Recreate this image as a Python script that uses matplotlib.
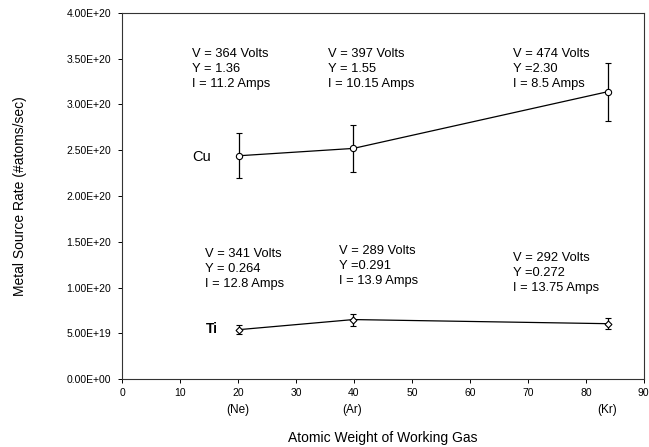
import numpy as np
import matplotlib
matplotlib.use("Agg")
import matplotlib.pyplot as plt
from matplotlib import transforms

plt.rcParams["font.family"] = ["Liberation Sans", "DejaVu Sans"]

# atomic weights of the working gases
gas_names = ["(Ne)", "(Ar)", "(Kr)"]
gas_weight = [20.2, 39.9, 83.8]

cu_rate = [2.44e20, 2.52e20, 3.14e20]
cu_err = [0.245e20, 0.255e20, 0.315e20]
ti_rate = [0.54e20, 0.65e20, 0.605e20]
ti_err = [0.05e20, 0.065e20, 0.06e20]

cu_notes = ["V = 364 Volts\nY = 1.36\nI = 11.2 Amps",
            "V = 397 Volts\nY = 1.55\nI = 10.15 Amps",
            "V = 474 Volts\nY =2.30\nI = 8.5 Amps"]
ti_notes = ["V = 341 Volts\nY = 0.264\nI = 12.8 Amps",
            "V = 289 Volts\nY =0.291\nI = 13.9 Amps",
            "V = 292 Volts\nY =0.272\nI = 13.75 Amps"]

yticks = np.arange(0, 4.01e20, 0.5e20)
xticks = np.arange(0, 91, 10)

fig = plt.figure(figsize=(6.49, 4.47), dpi=100)
ax = fig.add_axes([0.188, 0.152, 0.804, 0.819])

ax.errorbar(gas_weight, cu_rate, yerr=cu_err, color="black", lw=0.9,
            marker="o", ms=4.5, mfc="white", mec="black", mew=0.8,
            capsize=2.5, elinewidth=0.9, capthick=0.9)
ax.errorbar(gas_weight, ti_rate, yerr=ti_err, color="black", lw=0.9,
            marker="D", ms=3.5, mfc="white", mec="black", mew=0.8,
            capsize=2.5, elinewidth=0.9, capthick=0.9)

ax.set_xlim(0, 90)
ax.set_ylim(0, 4e20)
ax.set_xticks(xticks)
ax.set_yticks(yticks)
ax.set_yticklabels([f"{v:.2E}" for v in yticks])
ax.tick_params(labelsize=7.5, length=3, width=0.7, direction="out")
ax.tick_params(axis="y", pad=5)
for s in ax.spines.values():
    s.set_linewidth(0.8)
    s.set_color("#333333")

# text blocks (positions)
cu_note_x = [12.0, 35.6, 67.5]
ti_note_x = [14.4, 37.5, 67.5]
ti_note_y = [1.43e20, 1.46e20, 1.39e20]
for x, t in zip(cu_note_x, cu_notes):
    ax.text(x, 3.62e20, t, fontsize=9.3, va="top", ha="left", linespacing=1.32)
for x, y, t in zip(ti_note_x, ti_note_y, ti_notes):
    ax.text(x, y, t, fontsize=9.3, va="top", ha="left", linespacing=1.32)

ax.text(12.2, 2.43e20, "Cu", fontsize=10.5, va="center", ha="left")
ax.text(14.4, 0.55e20, "Ti", fontsize=10, va="center", ha="left", fontweight="bold")

trans = transforms.blended_transform_factory(ax.transData, ax.transAxes)
for x, n in zip(gas_weight, gas_names):
    ax.text(x - 0.2, -0.085, n, transform=trans, fontsize=8.5,
            ha="center", va="center")

ax.set_xlabel("Atomic Weight of Working Gas", fontsize=10, labelpad=24)
ax.set_ylabel("Metal Source Rate (#atoms/sec)", fontsize=10, labelpad=28)

fig.savefig("out.png", dpi=100)
